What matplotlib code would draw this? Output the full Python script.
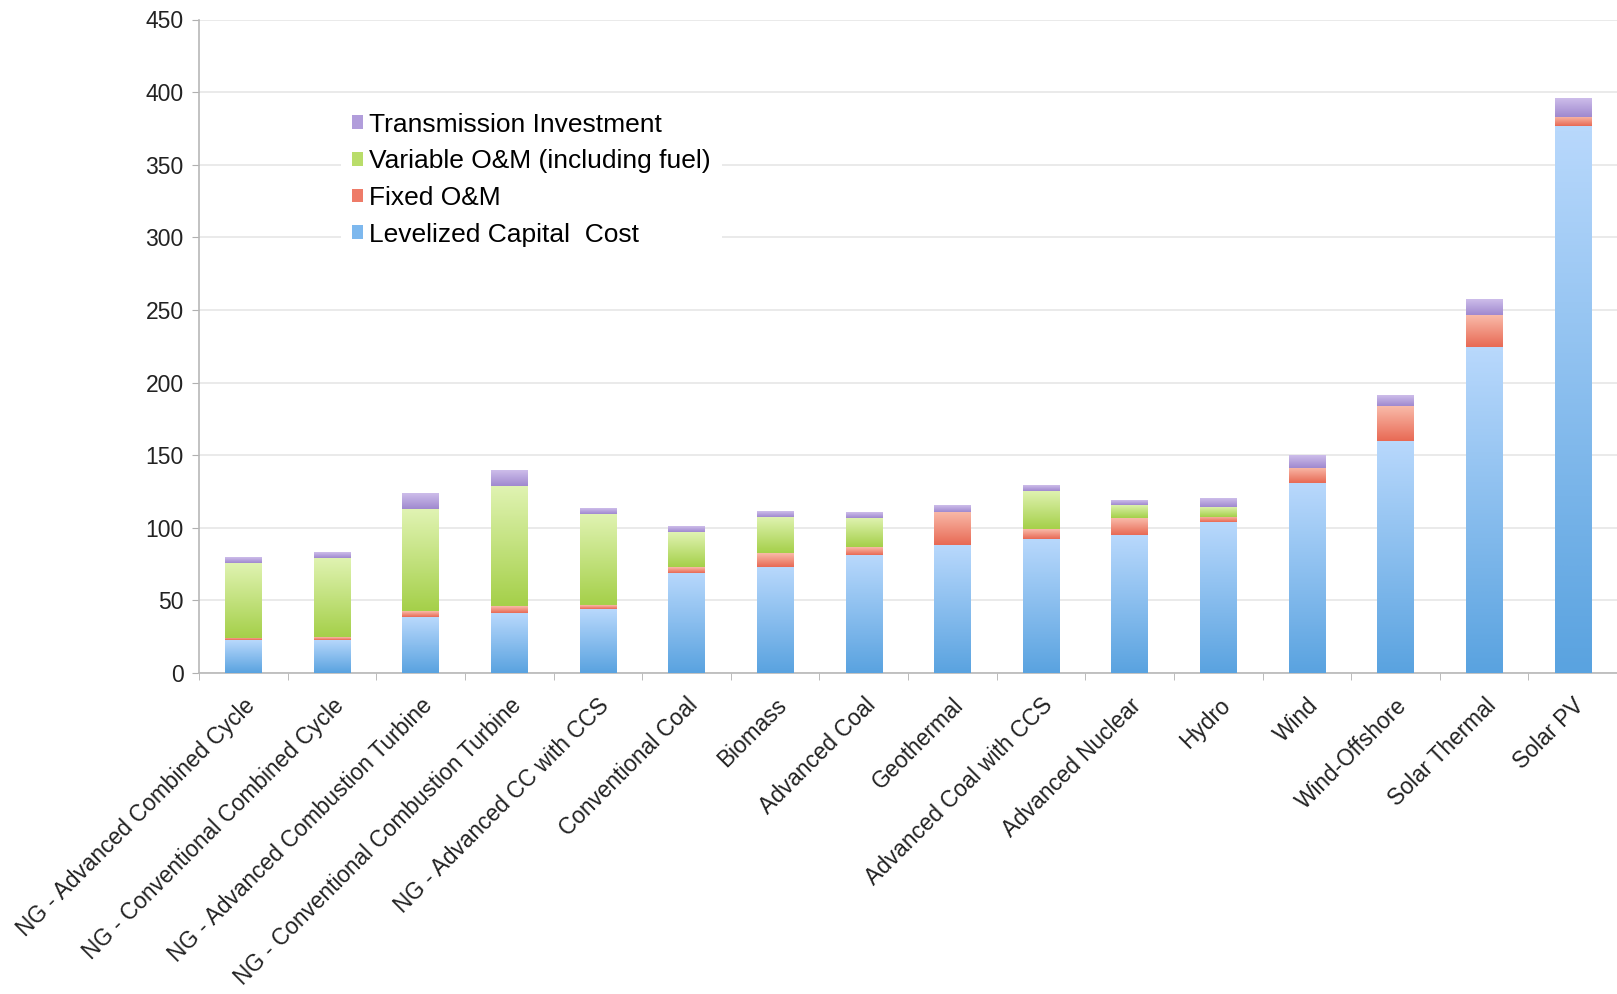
import matplotlib
matplotlib.use('Agg')
import matplotlib.pyplot as plt
from matplotlib.colors import LinearSegmentedColormap
import numpy as np

plt.rcParams['font.family'] = ['Liberation Sans', 'DejaVu Sans']

categories = ['NG - Advanced Combined Cycle', 'NG - Conventional Combined Cycle',
              'NG - Advanced Combustion Turbine', 'NG - Conventional Combustion Turbine',
              'NG - Advanced CC with CCS', 'Conventional Coal', 'Biomass', 'Advanced Coal',
              'Geothermal', 'Advanced Coal with CCS', 'Advanced Nuclear', 'Hydro', 'Wind',
              'Wind-Offshore', 'Solar Thermal', 'Solar PV']

capital = [22.4, 22.9, 38.5, 41.1, 43.8, 69.2, 73.3, 81.2, 88.0, 92.6, 94.9, 103.7, 130.5, 159.9, 224.4, 376.8]
fixed_om = [1.6, 1.7, 4.1, 4.7, 2.7, 3.8, 9.1, 5.3, 22.9, 6.3, 11.7, 3.5, 10.4, 23.8, 21.8, 6.4]
variable_om = [51.7, 54.9, 70.0, 82.9, 63.0, 23.9, 24.9, 20.4, 0.0, 26.4, 9.4, 7.1, 0.0, 0.0, 0.0, 0.0]
transmission = [3.6, 3.6, 10.8, 10.8, 3.8, 3.6, 3.8, 3.6, 4.8, 3.9, 3.0, 5.7, 8.4, 7.4, 10.4, 13.0]

series = [
    ('Levelized Capital  Cost', capital, '#7db8ee', ('#5aa3e0', '#b8d8fc')),
    ('Fixed O&M', fixed_om, '#ee7b68', ('#e86a55', '#f9baa9')),
    ('Variable O&M (including fuel)', variable_om, '#b9dd6a', ('#a5d04a', '#e0f3b2')),
    ('Transmission Investment', transmission, '#b19ddb', ('#a089cf', '#cdbdea')),
]

fig = plt.figure(figsize=(16.17, 9.94), dpi=100)
ax = fig.add_axes([199 / 1617, 1 - 673 / 994, 1 - 199 / 1617, (673 - 19.5) / 994])

x = np.arange(len(categories))
bottom = np.zeros(len(categories))
grad = np.linspace(0, 1, 64).reshape(-1, 1)
handles = []
for label, values, color, (dark, light) in series:
    bars = ax.bar(x, values, 0.41, bottom=bottom, color=color, label=label, zorder=2)
    # vertical gradient, dark at the bottom of each segment
    cmap = LinearSegmentedColormap.from_list(label, [dark, light])
    for p in bars.patches:
        if p.get_height() <= 0:
            continue
        ax.imshow(grad, extent=[p.get_x(), p.get_x() + p.get_width(), p.get_y(), p.get_y() + p.get_height()],
                  origin='lower', aspect='auto', cmap=cmap, zorder=3, interpolation='bilinear')
    handles.append(bars)
    bottom += np.array(values)

ax.set_xlim(-0.5, len(categories) - 0.5)
ax.set_ylim(0, 450)
ax.set_yticks(np.arange(0, 451, 50))
ax.yaxis.grid(True, color='#e6e6e6', linewidth=1.2, zorder=0)
ax.set_axisbelow(True)

ax.set_xticks(x)
ax.set_xticklabels(categories, rotation=45, ha='right', rotation_mode='anchor', fontsize=16.3, color='#222222')
ax.set_xticks(np.arange(-0.5, len(categories), 1), minor=True)
ax.tick_params(axis='x', which='major', length=0, pad=15)
ax.tick_params(axis='x', which='minor', length=5, color='#b0b0b0', direction='out')
ax.tick_params(axis='y', length=5, color='#b0b0b0', labelsize=16.5, labelcolor='#222222', pad=6)

for side in ['top', 'right']:
    ax.spines[side].set_visible(False)
for side in ['left', 'bottom']:
    ax.spines[side].set_color('#b8b8b8')
    ax.spines[side].set_linewidth(1.2)

leg = ax.legend(handles[::-1], [s[0] for s in series][::-1], loc='upper left',
                bbox_to_anchor=(328 / 1617, 1 - 89 / 994), bbox_transform=fig.transFigure,
                fontsize=19, frameon=True, facecolor='white', edgecolor='none', framealpha=1,
                handlelength=0.42, handleheight=0.42, handletextpad=0.25, labelspacing=0.48,
                borderpad=0.4, fancybox=False)
leg.set_zorder(5)

fig.savefig('out.png', dpi=100)
